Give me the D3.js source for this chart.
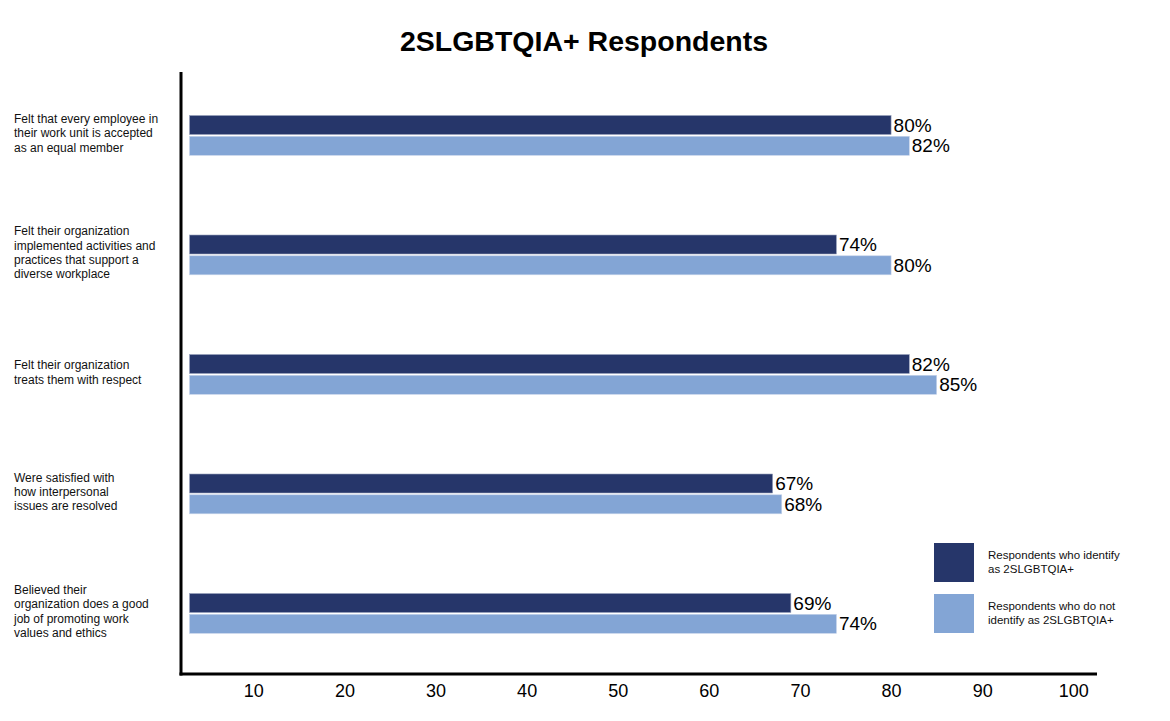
<!DOCTYPE html>
<html>
<head>
<meta charset="utf-8">
<script src="https://cdn.jsdelivr.net/npm/d3@7/dist/d3.min.js"></script>
<style>
  html, body { margin: 0; padding: 0; background: #fff; }
  svg { display: block; font-family: "Liberation Sans", Arial, Helvetica, sans-serif; }
</style>
</head>
<body>
<svg id="chart" width="1170" height="721"></svg>
<script>
const title = "2SLGBTQIA+ Respondents";
const categories = [
  ["Felt that every employee in", "their work unit is accepted", "as an equal member"],
  ["Felt their organization", "implemented activities and", "practices that support a", "diverse workplace"],
  ["Felt their organization", "treats them with respect"],
  ["Were satisfied with", "how interpersonal", "issues are resolved"],
  ["Believed their", "organization does a good", "job of promoting work", "values and ethics"]
];
const seriesNames = ["Respondents who identify as 2SLGBTQIA+", "Respondents who do not identify as 2SLGBTQIA+"];
const legendLines = [["Respondents who identify", "as 2SLGBTQIA+"], ["Respondents who do not", "identify as 2SLGBTQIA+"]];
const identify = [80, 74, 82, 67, 69];
const notIdentify = [82, 80, 85, 68, 74];
const tickValues = [10, 20, 30, 40, 50, 60, 70, 80, 90, 100];
const colors = ["#26366a", "#83a5d5"];

const svg = d3.select("#chart");
const x = d3.scaleLinear().domain([0, 100]).range([162.2, 1073.3]);
const barBase = 3; // bars start slightly right of the axis
const idx = d3.range(categories.length);
const y = d3.scaleBand().domain(idx).range([115.5, 115.5 + 119.5 * 5]).paddingInner(0).paddingOuter(0);
const barH = 19, gap = 1.8;

// title
svg.append("text").attr("x", 584).attr("y", 51).attr("text-anchor", "middle")
  .attr("font-size", 28.5).attr("font-weight", "bold").attr("fill", "#000").text(title);

// category labels
const lh = 14.3;
idx.forEach(i => {
  const lines = categories[i];
  const cy = y(i) + barH + gap / 2 - 2;
  const t = svg.append("text").attr("font-size", 12).attr("fill", "#111");
  lines.forEach((ln, k) => {
    t.append("tspan").attr("x", 14)
      .attr("y", cy + (k - (lines.length - 1) / 2) * lh + 4)
      .text(ln);
  });
});

// bars
const series = [identify, notIdentify];
series.forEach((vals, s) => {
  svg.append("g").selectAll("rect").data(vals).join("rect")
    .attr("x", x(barBase))
    .attr("y", (d, i) => y(i) + s * (barH + gap))
    .attr("width", d => x(d) - x(barBase))
    .attr("height", barH)
    .attr("fill", colors[s])
    .attr("stroke", s === 0 ? "#9aa3bd" : "#c5d3ea")
    .attr("stroke-width", 0.6);
  svg.append("g").selectAll("text").data(vals).join("text")
    .attr("x", d => x(d) + 2.5)
    .attr("y", (d, i) => y(i) + s * (barH + gap) + barH / 2 + 6.5)
    .attr("font-size", 19).attr("fill", "#000")
    .text(d => d + "%");
});

// axes lines
svg.append("line").attr("x1", 181).attr("x2", 181).attr("y1", 72).attr("y2", 675.5)
  .attr("stroke", "#000").attr("stroke-width", 3);
svg.append("line").attr("x1", 179.5).attr("x2", 1097).attr("y1", 674).attr("y2", 674)
  .attr("stroke", "#000").attr("stroke-width", 3);

// x axis tick labels
const xAxis = d3.axisBottom(x).tickValues(tickValues).tickSize(0).tickPadding(0).tickFormat(d3.format("d"));
const gx = svg.append("g").attr("transform", "translate(0,684)").call(xAxis);
gx.select(".domain").remove();
gx.selectAll("text").attr("font-size", 18).attr("fill", "#000")
  .attr("font-family", "\"Liberation Sans\", Arial, sans-serif").attr("dy", "0.71em");

// legend
const leg = svg.append("g");
legendLines.forEach((lines, s) => {
  const ly = 543 + s * 51;
  leg.append("rect").attr("x", 934).attr("y", ly).attr("width", 40).attr("height", 39).attr("fill", colors[s]);
  const t = leg.append("text").attr("font-size", 11.5).attr("fill", "#111");
  lines.forEach((ln, k) => {
    t.append("tspan").attr("x", 988).attr("y", ly + 16 + k * 14).text(ln);
  });
});
</script>
</body>
</html>
